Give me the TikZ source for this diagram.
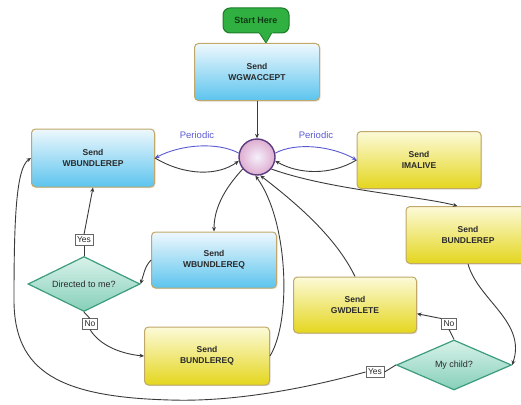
\documentclass[tikz,border=0pt]{standalone}
\usepackage{fontspec}
\setmainfont{Liberation Sans}
\usetikzlibrary{shapes.geometric,arrows.meta,shadows}
\definecolor{blueTop}{HTML}{EEF8FD}
\definecolor{blueBot}{HTML}{5CC4EE}
\definecolor{yelTop}{HTML}{FCFAD8}
\definecolor{yelBot}{HTML}{E4D61E}
\definecolor{boxBorder}{HTML}{BFA868}
\definecolor{dmTop}{HTML}{D8F2EA}
\definecolor{dmBot}{HTML}{86CFB8}
\definecolor{dmBorder}{HTML}{3C9C7C}
\definecolor{hubFill}{HTML}{E6D8F4}
\definecolor{hubBorder}{HTML}{5A3C80}
\definecolor{startGreen}{HTML}{2FB040}
\definecolor{startBorder}{HTML}{1C7A28}
\definecolor{startText}{HTML}{123A16}
\definecolor{perBlue}{HTML}{5A5AD2}
\definecolor{lineGray}{HTML}{3A3A3A}
\definecolor{txt}{HTML}{2A2A2A}
\begin{document}
\begin{tikzpicture}[x=1pt,y=-1pt,
  boxbase/.style={draw=boxBorder, line width=1pt, rounded corners=4pt,
    minimum width=124pt, minimum height=57pt, align=center, text=txt,
    font=\fontsize{8.5}{10.5}\selectfont\bfseries,
    drop shadow={opacity=0.2,shadow xshift=1.2pt,shadow yshift=-1.2pt}},
  bluebox/.style={boxbase, top color=blueTop, bottom color=blueBot},
  yelbox/.style={boxbase, top color=yelTop, bottom color=yelBot},
  decision/.style={diamond, aspect=2.2, draw=dmBorder, line width=1.2pt, top color=dmTop, bottom color=dmBot,
    inner sep=0pt, text=txt, font=\fontsize{9}{10}\selectfont},
  tag/.style={draw=gray!80!black, fill=white, line width=0.7pt, inner sep=2.2pt,
    font=\fontsize{8.5}{9}\selectfont, text=txt},
  conn/.style={draw=lineGray, line width=0.9pt},
  arr/.style={conn, -{Stealth[length=4.5pt,width=4pt]}},
  parr/.style={draw=perBlue, line width=0.9pt, -{Stealth[length=4.5pt,width=4pt]}},
  per/.style={text=perBlue, font=\fontsize{9.5}{10}\selectfont}
]
\useasboundingbox (0,0) rectangle (521,404);

% start bubble
\node[draw=startBorder, line width=1pt, fill=startGreen, rounded corners=7pt,
      minimum width=66pt, minimum height=25pt, font=\fontsize{9}{10}\selectfont\bfseries,
      text=startText] (start) at (256,20.5) {Start Here};
\filldraw[draw=startBorder, fill=startGreen, line width=0.8pt] (259,32.4) -- (266,43) -- (272,32.4);
\fill[startGreen] (258.5,31) rectangle (272.5,33);

% boxes
\node[bluebox, minimum width=125pt] (wgw) at (257,72) {Send\\WGWACCEPT};
\node[bluebox, minimum width=123pt, minimum height=58pt] (wbrep) at (93,158) {Send\\WBUNDLEREP};
\node[yelbox] (imalive) at (419,160) {Send\\IMALIVE};
\node[yelbox] (brep) at (468,235) {Send\\BUNDLEREP};
\node[bluebox, minimum width=125pt, minimum height=56pt] (wbreq) at (214,260) {Send\\WBUNDLEREQ};
\node[yelbox, minimum width=125pt, minimum height=58pt] (breq) at (207,356) {Send\\BUNDLEREQ};
\node[yelbox, minimum width=123pt, minimum height=56pt] (gwd) at (355,305) {Send\\GWDELETE};

% hub
\node[circle, draw=hubBorder, line width=1.4pt, inner color=white!60!hubFill, outer color=hubFill!80!purple,
      minimum size=36pt, inner sep=0pt] (hub) at (257,157) {};

% decisions
\node[decision, minimum width=112pt, minimum height=55pt] (dir) at (84,284) {Directed to me?};
\node[decision, minimum width=115pt, minimum height=50pt] (child) at (454,365) {My child?};

% tags
\node[tag] (yes1) at (84,240) {Yes};
\node[tag] (no1) at (90,324) {No};
\node[tag] (no2) at (449,324) {No};
\node[tag] (yes2) at (375,372) {Yes};

% periodic labels
\node[per] (per1) at (197,135) {Periodic};
\node[per] (per2) at (316,135) {Periodic};

% connectors
\draw[arr] (wgw) -- (hub);
\draw[parr] (hub.168) .. controls (218,142) and (182,144) .. (wbrep.east);
\draw[arr] (wbrep.east) .. controls (185,176) and (218,176) .. (hub.192);
\draw[parr] (hub.12) .. controls (296,142) and (332,146) .. (imalive.west);
\draw[arr] (imalive.west) .. controls (330,176) and (298,174) .. (hub.-12);

\draw[arr] (hub.-40) .. controls (330,190) and (420,196) .. (brep.110);
\draw[arr] (hub.220) .. controls (228,185) and (214,205) .. (wbreq.north);
\draw[arr] (breq.east) .. controls (292,320) and (288,220) .. (hub.-95);
\draw[arr] (gwd.north) .. controls (335,235) and (292,200) .. (hub.-80);

\draw[arr] (wbreq.west) .. controls (146,266) .. (dir.east);
\draw[conn] (dir.north) -- (yes1.south);
\draw[arr] (yes1.north) -- (wbrep.south);
\draw[conn] (dir.south) -- (no1.north);
\draw[arr] (no1.south) .. controls (100,346) and (122,354) .. (breq.west);

\draw[arr] (brep.south) .. controls (478,300) and (527,322) .. (child.east);
\draw[conn] (child.north) -- (no2.south);
\draw[arr] (no2.north west) -- (gwd.-8);
\draw[conn] (child.west) -- (yes2.east);
\draw[arr] (yes2.west) .. controls (300,390) and (230,402) .. (170,400)
  .. controls (60,397) and (14,372) .. (14,300)
  .. controls (14,220) and (16,168) .. (wbrep.west);
\end{tikzpicture}
\end{document}
